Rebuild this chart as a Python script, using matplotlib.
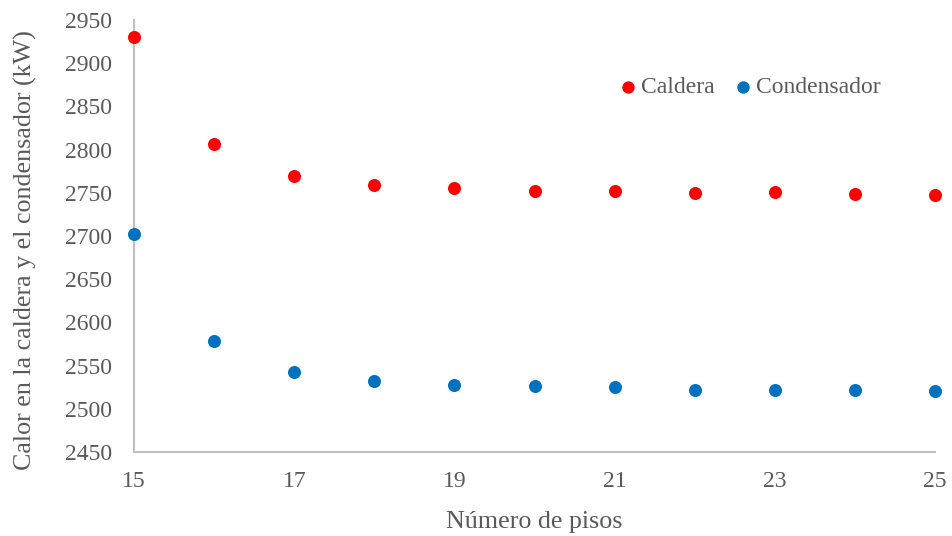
import matplotlib
matplotlib.use("Agg")
import matplotlib.pyplot as plt

pisos = [15, 16, 17, 18, 19, 20, 21, 22, 23, 24, 25]
caldera = [2930, 2806, 2770, 2759, 2755, 2752, 2752, 2750, 2751, 2749, 2748]
condensador = [2702, 2579, 2543, 2532, 2528, 2526, 2525, 2522, 2522, 2522, 2521]

plt.rcParams['font.family'] = ['Liberation Serif', 'DejaVu Serif']
gray = '#595959'

fig = plt.figure(figsize=(9.52, 5.36), dpi=100)
ax = fig.add_axes([0.1408, 0.1567, 0.8414, 0.806])

ax.scatter(pisos, caldera, s=88, color='#FF0000', label='Caldera', zorder=3, clip_on=False, linewidths=0)
ax.scatter(pisos, condensador, s=88, color='#0070C0', label='Condensador', zorder=3, clip_on=False, linewidths=0)

ax.set_xlim(15, 25)
ax.set_ylim(2450, 2950)
ax.set_xticks(range(15, 26, 2))
ax.set_yticks(range(2450, 2951, 50))
ax.tick_params(length=0, labelsize=17, colors=gray)
ax.tick_params(axis='y', pad=16)
ax.tick_params(axis='x', pad=14)

for s in ['top', 'right']:
    ax.spines[s].set_visible(False)
for s in ['left', 'bottom']:
    ax.spines[s].set_color('#BFBFBF')
    ax.spines[s].set_linewidth(1.5)

ax.set_xlabel('Número de pisos', fontsize=18.7, color=gray, labelpad=13)
ax.set_ylabel('Calor en la caldera y el condensador (kW)', fontsize=18.7, color=gray, labelpad=20)
ax.yaxis.label.set_y(0.4676)

leg = ax.legend(loc='center', bbox_to_anchor=(0.768, 0.8435), ncol=2, frameon=False,
                fontsize=17, handlelength=0.8, handletextpad=0.15, columnspacing=0.8,
                markerscale=0.95, borderaxespad=0, borderpad=0)
for t in leg.get_texts():
    t.set_color(gray)

fig.savefig('out.png', dpi=100)
